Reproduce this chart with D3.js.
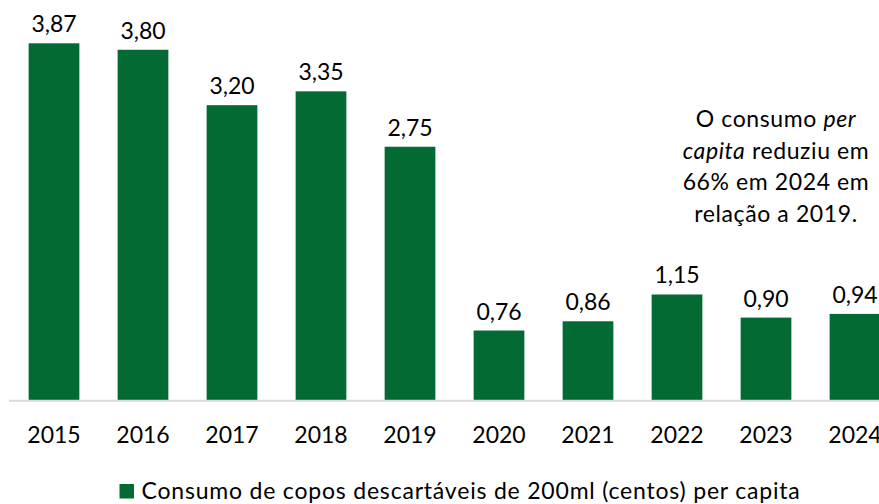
<!DOCTYPE html>
<html>
<head>
<meta charset="utf-8">
<script src="https://cdn.jsdelivr.net/npm/d3@7"></script>
<style>
  body { margin: 0; background: #fff; }
  svg { display: block; font-family: Lato, "Open Sans", sans-serif; }
</style>
</head>
<body>
<div id="chart"></div>
<script>
// Data
const years = ["2015", "2016", "2017", "2018", "2019", "2020", "2021", "2022", "2023", "2024"];
const consumo = [3.87, 3.80, 3.20, 3.35, 2.75, 0.76, 0.86, 1.15, 0.90, 0.94];
const legendLabel = "Consumo de copos descartáveis de 200ml (centos) per capita";

const width = 879;
const height = 504;
const green = "#036A33";
const fontSize = 23;

const svg = d3.select("#chart")
    .append("svg")
    .attr("width", width)
    .attr("height", height);

// Scales (plot runs past the right edge, as in the original)
const x = d3.scaleBand()
    .domain(years)
    .range([9.5, 899.5])
    .paddingInner(0.43)
    .paddingOuter(0.215);

const y = d3.scaleLinear()
    .domain([0, 4])
    .range([400.7, 31.3]);

// Bars
svg.append("g")
    .selectAll("rect")
    .data(consumo)
    .enter().append("rect")
    .attr("x", (d, i) => x(years[i]))
    .attr("y", d => y(d))
    .attr("width", x.bandwidth())
    .attr("height", d => y(0) - y(d))
    .attr("fill", green);

// Value labels
svg.append("g")
    .selectAll("text")
    .data(consumo)
    .enter().append("text")
    .attr("x", (d, i) => x(years[i]) + x.bandwidth() / 2)
    .attr("y", d => y(d) - 11)
    .attr("text-anchor", "middle")
    .style("font-size", fontSize + "px")
    .style("fill", "#000")
    .text(d => d.toFixed(2).replace(".", ","));

// X axis
const xAxis = svg.append("g")
    .attr("transform", `translate(0,${y(0)})`)
    .call(d3.axisBottom(x).tickSize(0).tickSizeOuter(0));

xAxis.select(".domain")
    .attr("d", `M9,0H${width}`)
    .attr("stroke", "#d9d9d9")
    .attr("stroke-width", 2);

xAxis.selectAll("text")
    .attr("y", 42)
    .attr("dy", null)
    .style("font-family", "Lato, sans-serif")
    .style("font-size", fontSize + "px")
    .style("fill", "#000");

// Annotation
const note = svg.append("text")
    .attr("text-anchor", "middle")
    .style("font-size", fontSize + "px")
    .style("letter-spacing", "0.6px")
    .style("fill", "#000");

const noteLines = [
    [["O consumo ", false], ["per", true]],
    [["capita", true], [" reduziu em", false]],
    [["66% em 2024 em", false]],
    [["relação a 2019.", false]]
];

noteLines.forEach((parts, li) => {
    parts.forEach((p, pi) => {
        const t = note.append("tspan")
            .style("font-style", p[1] ? "italic" : "normal")
            .text(p[0]);
        if (pi === 0) t.attr("x", 776).attr("y", 127.3 + li * 31.5);
    });
});

// Legend
const legend = svg.append("g");

legend.append("rect")
    .attr("x", 119.5)
    .attr("y", 484)
    .attr("width", 14.5)
    .attr("height", 14.5)
    .attr("fill", green);

legend.append("text")
    .attr("x", 141.5)
    .attr("y", 498.5)
    .style("font-size", fontSize + "px")
    .style("letter-spacing", "0.8px")
    .style("fill", "#000")
    .text(legendLabel);
</script>
</body>
</html>
